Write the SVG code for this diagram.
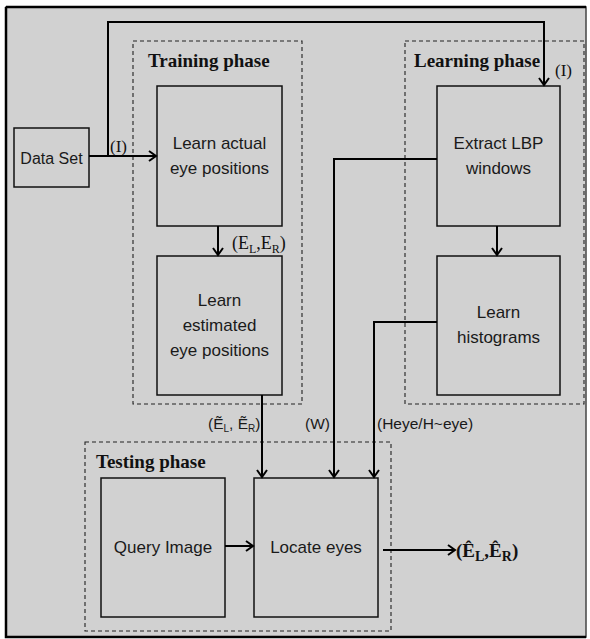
<svg xmlns="http://www.w3.org/2000/svg" width="590" height="639" viewBox="0 0 590 639">
<defs>
<marker id="ah" markerWidth="12" markerHeight="12" refX="10" refY="6" orient="auto" markerUnits="userSpaceOnUse">
<path d="M3,1 L10,6 L3,11" fill="none" stroke="#000" stroke-width="2"/>
</marker>
<style>
.box{fill:none;stroke:#111;stroke-width:1.5}
.phase{fill:none;stroke:#222;stroke-width:1.1;stroke-dasharray:4,3}
.conn{fill:none;stroke:#000;stroke-width:2;marker-end:url(#ah)}
.t{font-family:"Liberation Sans",Arial,sans-serif;font-size:17px;fill:#1a1a1a;text-anchor:middle}
.ph{font-family:"Liberation Serif","Times New Roman",serif;font-size:19px;font-weight:bold;fill:#111}
.s{font-family:"Liberation Serif","Times New Roman",serif;font-size:17px;fill:#111}
.lb{font-family:"Liberation Sans",Arial,sans-serif;font-size:15.5px;fill:#1a1a1a}
</style>
</defs>
<rect x="0" y="0" width="590" height="639" fill="#fff"/>
<rect x="6" y="7" width="580" height="630" fill="#d1d1d1" stroke="#444" stroke-width="1.5"/>
<path d="M6,7 H586 M6,7 V637 H586" fill="none" stroke="#000" stroke-width="2.5"/>

<g id="training-phase">
<rect class="phase" x="133" y="41" width="169" height="363"/>
<text class="ph" x="148" y="67">Training phase</text>
</g>
<g id="learning-phase">
<rect class="phase" x="405" y="41" width="179" height="363"/>
<text class="ph" x="414" y="67">Learning phase</text>
</g>
<g id="testing-phase">
<rect class="phase" x="85" y="442" width="306" height="189"/>
<text class="ph" x="96" y="468">Testing phase</text>
</g>

<g id="data-set">
<rect class="box" x="14" y="128" width="75" height="59"/>
<text class="t" x="51.5" y="164" style="font-size:16px">Data Set</text>
</g>
<g id="learn-actual">
<rect class="box" x="157" y="86" width="125" height="140"/>
<text class="t" x="219.5" y="149">Learn actual</text>
<text class="t" x="219.5" y="174">eye positions</text>
</g>
<g id="learn-estimated">
<rect class="box" x="157" y="256" width="125" height="139"/>
<text class="t" x="219.5" y="306">Learn</text>
<text class="t" x="219.5" y="331">estimated</text>
<text class="t" x="219.5" y="356">eye positions</text>
</g>
<g id="extract-lbp">
<rect class="box" x="437" y="86" width="123" height="140"/>
<text class="t" x="498.5" y="149">Extract LBP</text>
<text class="t" x="498.5" y="174">windows</text>
</g>
<g id="learn-histograms">
<rect class="box" x="437" y="256" width="123" height="139"/>
<text class="t" x="498.5" y="318">Learn</text>
<text class="t" x="498.5" y="343">histograms</text>
</g>
<g id="query-image">
<rect class="box" x="101" y="478" width="124" height="139"/>
<text class="t" x="163" y="553">Query Image</text>
</g>
<g id="locate-eyes">
<rect class="box" x="254" y="478" width="124" height="139"/>
<text class="t" x="316" y="553">Locate eyes</text>
</g>

<g id="connectors">
<path class="conn" d="M89,156 H156"/>
<path class="conn" d="M108,156 V22 H544 V85"/>
<path class="conn" d="M218,226 V255"/>
<path class="conn" d="M497,226 V255"/>
<path class="conn" d="M262,395 V477"/>
<path class="conn" d="M437,159 H334 V477"/>
<path class="conn" d="M437,322 H374 V477"/>
<path class="conn" d="M225,546 H253"/>
<path class="conn" d="M383,550 H455"/>
</g>

<g id="labels">
<text class="s" x="110" y="152">(I)</text>
<text class="s" x="555" y="76">(I)</text>
<text class="s" x="232" y="249" style="font-size:18px">(E<tspan font-size="12" dy="4">L</tspan><tspan dy="-4">,E</tspan><tspan font-size="12" dy="4">R</tspan><tspan dy="-4">)</tspan></text>
<text class="lb" x="208" y="429">(Ẽ<tspan font-size="10" dy="3">L</tspan><tspan dy="-3">, Ẽ</tspan><tspan font-size="10" dy="3">R</tspan><tspan dy="-3">)</tspan></text>
<text class="lb" x="305" y="429">(W)</text>
<text class="lb" x="377" y="429">(Heye/H~eye)</text>
<text class="s" x="456" y="557" font-weight="bold" style="font-size:19px">(Ê<tspan font-size="14" dy="4">L</tspan><tspan dy="-4">,Ê</tspan><tspan font-size="14" dy="4">R</tspan><tspan dy="-4">)</tspan></text>
</g>
</svg>
